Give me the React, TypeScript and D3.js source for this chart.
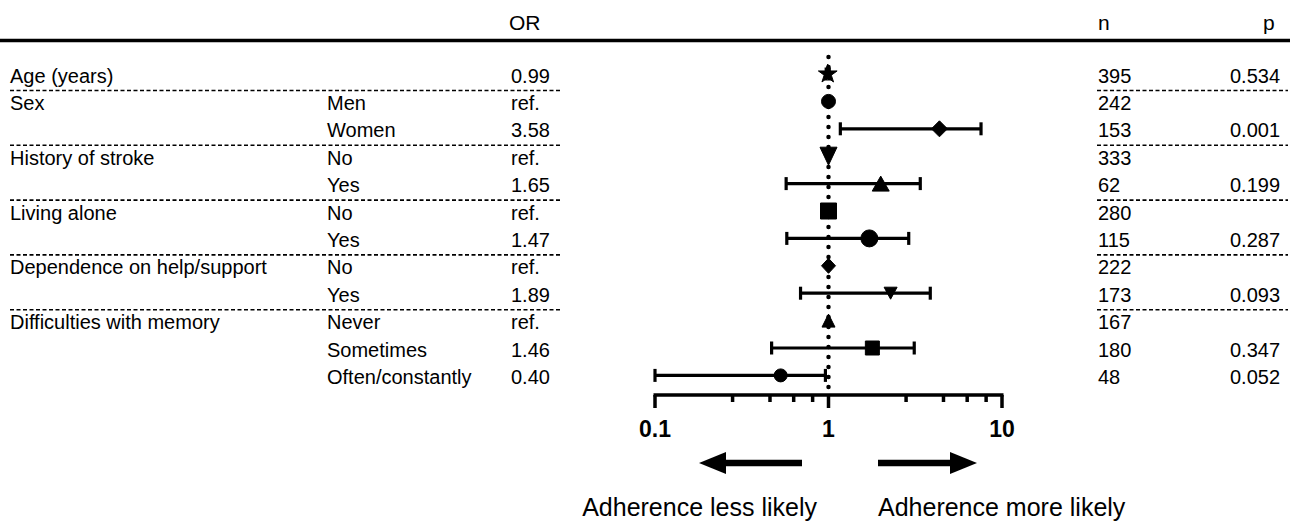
import React, { useEffect, useRef } from "react";
import * as d3 from "d3";

// table columns, one entry per row
const variables = ["Age (years)", "Sex", "", "History of stroke", "", "Living alone", "", "Dependence on help/support", "", "Difficulties with memory", "", ""];
const categories = ["", "Men", "Women", "No", "Yes", "No", "Yes", "No", "Yes", "Never", "Sometimes", "Often/constantly"];
const orLabels = ["0.99", "ref.", "3.58", "ref.", "1.65", "ref.", "1.47", "ref.", "1.89", "ref.", "1.46", "0.40"];
const nValues = [395, 242, 153, 333, 62, 280, 115, 222, 173, 167, 180, 48];
const pValues = ["0.534", "", "0.001", "", "0.199", "", "0.287", "", "0.093", "", "0.347", "0.052"];

// plotted estimates and CI
const orEstimates = [0.99, 1, 4.36, 1, 2.0, 1, 1.72, 1, 2.28, 1, 1.79, 0.53];
const ciLower = [0.97, null, 1.17, null, 0.57, null, 0.575, null, 0.69, null, 0.47, 0.1];
const ciUpper = [1.01, null, 7.57, null, 3.38, null, 2.9, null, 3.86, null, 3.12, 0.96];

// rows that close a variable group (dashed rule under them)
const groupLastRows = [0, 2, 4, 6, 8];

const majorTicks = [0.1, 1, 10];
const minorTicks = [0.28, 0.46, 0.63, 0.81, 2.8, 4.6, 6.3, 8.1];

// marker look per row
const markerStyles = [
  { kind: "star", w: 11, h: 11 },
  { kind: "circle", w: 14, h: 14 },
  { kind: "diamond", w: 16, h: 16 },
  { kind: "down", w: 17, h: 18 },
  { kind: "up", w: 17, h: 15 },
  { kind: "square", w: 16, h: 16 },
  { kind: "circle", w: 17, h: 17 },
  { kind: "diamond", w: 14, h: 15 },
  { kind: "down", w: 13, h: 12 },
  { kind: "up", w: 13, h: 13 },
  { kind: "square", w: 14, h: 14 },
  { kind: "circle", w: 13, h: 13 }
];

const FONT = "'Liberation Sans', Arial, sans-serif";

function markerPath(kind: string, w: number, h: number) {
  if (kind === "star") {
    return d3.symbol().type(d3.symbolStar).size(w * h * 0.9)();
  }
  const p = d3.path();
  if (kind === "circle") {
    p.arc(0, 0, w / 2, 0, 2 * Math.PI);
  } else if (kind === "square") {
    p.rect(-w / 2, -h / 2, w, h);
  } else if (kind === "diamond") {
    p.moveTo(0, -h / 2);
    p.lineTo(w / 2, 0);
    p.lineTo(0, h / 2);
    p.lineTo(-w / 2, 0);
    p.closePath();
  } else if (kind === "up") {
    p.moveTo(0, -h / 2);
    p.lineTo(w / 2, h / 2);
    p.lineTo(-w / 2, h / 2);
    p.closePath();
  } else {
    p.moveTo(0, h / 2);
    p.lineTo(w / 2, -h / 2);
    p.lineTo(-w / 2, -h / 2);
    p.closePath();
  }
  return p.toString();
}

export default function App() {
  const ref = useRef<SVGSVGElement>(null);

  useEffect(() => {
    document.body.style.margin = "0";
    const width = 1295;
    const height = 523;
    const svg = d3.select(ref.current);
    svg.selectAll("*").remove();
    svg.attr("width", width).attr("height", height);

    const x = d3.scaleLog().domain([0.1, 10]).range([655, 1002]);
    const rows = d3.range(nValues.length);
    const y = d3.scaleLinear().domain([0, rows.length - 1]).range([74, 375.4]);
    const axisY = 395;

    const g = svg.append("g").attr("font-family", FONT).attr("fill", "#000");

    // header
    g.append("text").attr("x", 509).attr("y", 30).attr("font-size", 21).text("OR");
    g.append("text").attr("x", 1098).attr("y", 30).attr("font-size", 21).text("n");
    g.append("text").attr("x", 1263).attr("y", 30).attr("font-size", 21).text("p");
    g.append("line")
      .attr("x1", 0).attr("x2", 1290)
      .attr("y1", 40.5).attr("y2", 40.5)
      .attr("stroke", "#000").attr("stroke-width", 3.5);

    // table text
    const cols: [number, (i: number) => string][] = [
      [10, i => variables[i]],
      [327, i => categories[i]],
      [511, i => orLabels[i]],
      [1098, i => String(nValues[i])],
      [1230, i => pValues[i]]
    ];
    cols.forEach(([cx, get]) => {
      g.append("g")
        .selectAll("text")
        .data(rows)
        .enter()
        .append("text")
        .attr("x", cx)
        .attr("y", i => y(i) + 8.5)
        .attr("font-size", 20)
        .text(i => get(i));
    });

    // dashed group separators
    const sep = g.append("g")
      .attr("stroke", "#000")
      .attr("stroke-width", 1.6)
      .attr("stroke-dasharray", "4,2.5");
    groupLastRows.forEach(r => {
      const yy = y(r) + 16.5;
      sep.append("line").attr("x1", 10).attr("x2", 562).attr("y1", yy).attr("y2", yy);
      sep.append("line").attr("x1", 1097).attr("x2", 1288).attr("y1", yy).attr("y2", yy);
    });

    // dotted reference line at OR = 1
    g.append("line")
      .attr("x1", x(1)).attr("x2", x(1))
      .attr("y1", 57).attr("y2", axisY)
      .attr("stroke", "#000")
      .attr("stroke-width", 4.5)
      .attr("stroke-linecap", "round")
      .attr("stroke-dasharray", "0,10");

    // confidence intervals
    const ci = g.append("g").attr("stroke", "#000").attr("stroke-width", 3.2);
    rows.forEach(i => {
      const lo = ciLower[i];
      const hi = ciUpper[i];
      if (lo == null || hi == null) return;
      ci.append("line").attr("x1", x(lo)).attr("x2", x(hi)).attr("y1", y(i)).attr("y2", y(i));
      [lo, hi].forEach(v => {
        ci.append("line")
          .attr("x1", x(v)).attr("x2", x(v))
          .attr("y1", y(i) - 6.5).attr("y2", y(i) + 6.5);
      });
    });

    // point estimates
    g.append("g")
      .selectAll("path")
      .data(rows)
      .enter()
      .append("path")
      .attr("transform", i => `translate(${x(orEstimates[i])},${y(i)})`)
      .attr("d", i => markerPath(markerStyles[i].kind, markerStyles[i].w, markerStyles[i].h))
      .attr("fill", "#000")
      .attr("stroke", "#000")
      .attr("stroke-width", 1)
      .attr("stroke-linejoin", "round");

    // log axis
    const axis = g.append("g").attr("stroke", "#000").attr("stroke-width", 3.5);
    axis.append("line").attr("x1", x(0.1) - 1.5).attr("x2", x(10) + 1.5).attr("y1", axisY).attr("y2", axisY);
    axis.selectAll(".major")
      .data(majorTicks)
      .enter()
      .append("line")
      .attr("x1", d => x(d)).attr("x2", d => x(d))
      .attr("y1", axisY).attr("y2", axisY + 13);
    axis.selectAll(".minor")
      .data(minorTicks)
      .enter()
      .append("line")
      .attr("x1", d => x(d)).attr("x2", d => x(d))
      .attr("y1", axisY).attr("y2", axisY + 7);
    g.append("g")
      .selectAll("text")
      .data(majorTicks)
      .enter()
      .append("text")
      .attr("x", d => x(d))
      .attr("y", 437)
      .attr("text-anchor", "middle")
      .attr("font-size", 23)
      .attr("font-weight", "bold")
      .text(d => String(d));

    // direction arrows
    const arrow = (x0: number, x1: number) => {
      const dir = Math.sign(x1 - x0);
      const ay = 463;
      g.append("line")
        .attr("x1", x0).attr("x2", x1 - dir * 24)
        .attr("y1", ay).attr("y2", ay)
        .attr("stroke", "#000").attr("stroke-width", 6.5);
      const p = d3.path();
      p.moveTo(x1, ay);
      p.lineTo(x1 - dir * 27, ay - 11);
      p.lineTo(x1 - dir * 27, ay + 11);
      p.closePath();
      g.append("path").attr("d", p.toString()).attr("fill", "#000");
    };
    arrow(802, 699);
    arrow(878, 977);

    g.append("text").attr("x", 817).attr("y", 516).attr("text-anchor", "end").attr("font-size", 25).text("Adherence less likely");
    g.append("text").attr("x", 878).attr("y", 516).attr("font-size", 25).text("Adherence more likely");
  }, []);

  return <svg ref={ref} style={{ display: "block", position: "absolute", left: 0, top: 0, background: "#fff" }} />;
}
